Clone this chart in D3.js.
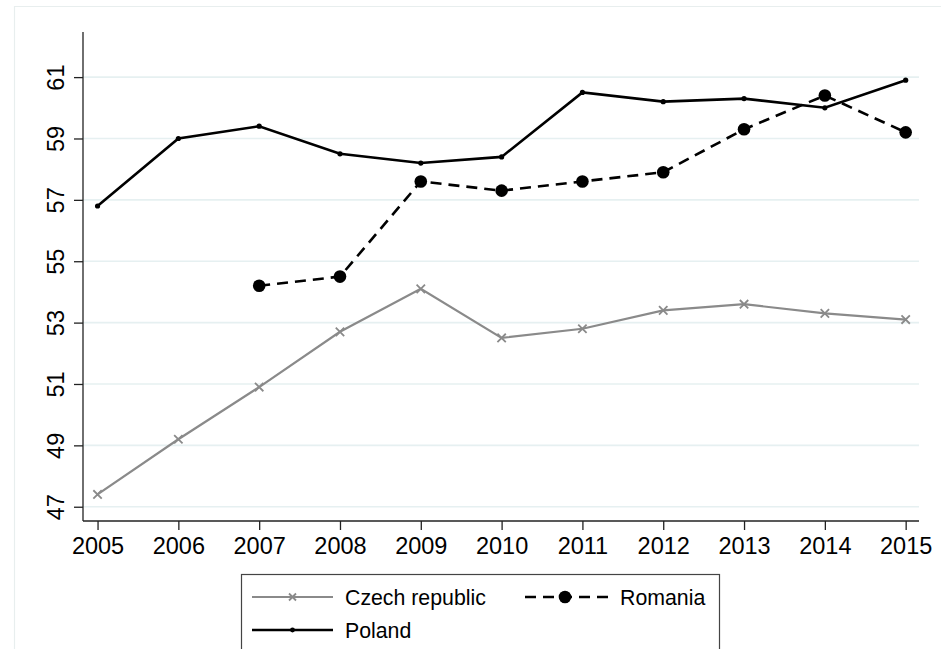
<!DOCTYPE html>
<html>
<head>
<meta charset="utf-8">
<script src="https://cdn.jsdelivr.net/npm/d3@7"></script>
<style>
  html, body { margin: 0; padding: 0; background: #fff; }
  svg { display: block; font-family: "Liberation Sans", Arial, sans-serif; }
</style>
</head>
<body>
<svg id="chart" width="941" height="649"></svg>
<script>
// Series, one value per year
const years = [2005, 2006, 2007, 2008, 2009, 2010, 2011, 2012, 2013, 2014, 2015];
const czech = [47.4, 49.2, 50.9, 52.7, 54.1, 52.5, 52.8, 53.4, 53.6, 53.3, 53.1];
const romania = [null, null, 54.2, 54.5, 57.6, 57.3, 57.6, 57.9, 59.3, 60.4, 59.2];
const poland = [56.8, 59.0, 59.4, 58.5, 58.2, 58.4, 60.5, 60.2, 60.3, 60.0, 60.9];
const yTicks = [47, 49, 51, 53, 55, 57, 59, 61];
const seriesNames = ["Czech republic", "Romania", "Poland"];

const svg = d3.select("#chart");

// Outer graph region frame (cropped on the right and bottom)
svg.append("path")
  .attr("d", "M14.5,660 V6.5 H950")
  .attr("fill", "none")
  .attr("stroke", "#e8eeee")
  .attr("stroke-width", 1.2);

const plot = { left: 83, right: 919, top: 32, bottom: 521 };

const x = d3.scaleLinear().domain([2004.82, 2015.165]).range([plot.left, plot.right]);
const y = d3.scaleLinear().domain([46.535, 62.47]).range([plot.bottom, plot.top]);

// Horizontal grid lines
svg.append("g")
  .selectAll("line")
  .data(yTicks)
  .join("line")
  .attr("x1", plot.left).attr("x2", plot.right)
  .attr("y1", d => y(d)).attr("y2", d => y(d))
  .attr("stroke", "#e6f0f1")
  .attr("stroke-width", 1.6);

// Y axis
const yAxis = svg.append("g")
  .attr("transform", `translate(${plot.left},0)`)
  .call(d3.axisLeft(y).tickValues(yTicks).tickSize(9).tickSizeOuter(0).tickPadding(10));
yAxis.select(".domain").remove();
yAxis.append("line")
  .attr("x1", 0).attr("x2", 0)
  .attr("y1", plot.top).attr("y2", plot.bottom)
  .attr("stroke", "#222").attr("stroke-width", 1.3);
yAxis.selectAll(".tick line").attr("stroke", "#222").attr("stroke-width", 1.3);
yAxis.selectAll(".tick text")
  .attr("font-size", 23.5)
  .attr("fill", "#000")
  .attr("x", null).attr("dy", null)
  .attr("text-anchor", "middle")
  .attr("transform", "translate(-19,0) rotate(-90)");

// X axis
const xAxis = svg.append("g")
  .attr("transform", `translate(0,${plot.bottom})`)
  .call(d3.axisBottom(x).tickValues(years).tickFormat(d3.format("d")).tickSize(9).tickSizeOuter(0).tickPadding(7));
xAxis.select(".domain").remove();
xAxis.append("line")
  .attr("x1", plot.left).attr("x2", plot.right)
  .attr("y1", 0).attr("y2", 0)
  .attr("stroke", "#222").attr("stroke-width", 1.3);
xAxis.selectAll(".tick line").attr("stroke", "#222").attr("stroke-width", 1.3);
xAxis.selectAll(".tick text").attr("font-size", 23.5).attr("fill", "#000");

const line = d3.line()
  .defined(d => d.v !== null)
  .x(d => x(d.yr))
  .y(d => y(d.v));

const pts = vals => years.map((yr, i) => ({ yr, v: vals[i] })).filter(d => d.v !== null);

// Czech republic: gray line with x markers
const czechData = years.map((yr, i) => ({ yr, v: czech[i] }));
svg.append("path")
  .datum(czechData)
  .attr("d", line)
  .attr("fill", "none")
  .attr("stroke", "#8a8a8a")
  .attr("stroke-width", 2.2);
const xMark = (g, cx, cy, s) => {
  g.append("path")
    .attr("d", `M${cx - s},${cy - s}L${cx + s},${cy + s}M${cx - s},${cy + s}L${cx + s},${cy - s}`)
    .attr("stroke", "#8a8a8a").attr("stroke-width", 1.8).attr("fill", "none");
};
const czechMarks = svg.append("g");
pts(czech).forEach(d => xMark(czechMarks, x(d.yr), y(d.v), 4.2));

// Romania: black dashed line with large dots
const romData = years.map((yr, i) => ({ yr, v: romania[i] }));
svg.append("path")
  .datum(romData)
  .attr("d", line)
  .attr("fill", "none")
  .attr("stroke", "#000")
  .attr("stroke-width", 2.6)
  .attr("stroke-dasharray", "11,7");
svg.append("g")
  .selectAll("circle")
  .data(pts(romania))
  .join("circle")
  .attr("cx", d => x(d.yr)).attr("cy", d => y(d.v))
  .attr("r", 6.3)
  .attr("fill", "#000");

// Poland: black solid line with small dots
const polData = years.map((yr, i) => ({ yr, v: poland[i] }));
svg.append("path")
  .datum(polData)
  .attr("d", line)
  .attr("fill", "none")
  .attr("stroke", "#000")
  .attr("stroke-width", 2.6);
svg.append("g")
  .selectAll("circle")
  .data(pts(poland))
  .join("circle")
  .attr("cx", d => x(d.yr)).attr("cy", d => y(d.v))
  .attr("r", 2.6)
  .attr("fill", "#000");

// Legend
const lg = svg.append("g");
lg.append("rect")
  .attr("x", 241.5).attr("y", 574.5)
  .attr("width", 478).attr("height", 120)
  .attr("fill", "#fff")
  .attr("stroke", "#444")
  .attr("stroke-width", 1.2);

// Row 1: Czech republic
const r1 = 597, r2 = 630;
lg.append("line").attr("x1", 252).attr("x2", 333).attr("y1", r1).attr("y2", r1)
  .attr("stroke", "#8a8a8a").attr("stroke-width", 2.2);
xMark(lg, 292.5, r1, 3.5);
lg.append("text").attr("x", 345).attr("y", r1).attr("dy", "0.36em")
  .attr("font-size", 21.3).attr("fill", "#000").text(seriesNames[0]);

// Row 1: Romania
lg.append("line").attr("x1", 525).attr("x2", 610).attr("y1", r1).attr("y2", r1)
  .attr("stroke", "#000").attr("stroke-width", 2.6).attr("stroke-dasharray", "11,7");
lg.append("circle").attr("cx", 565).attr("cy", r1).attr("r", 6.3).attr("fill", "#000");
lg.append("text").attr("x", 620).attr("y", r1).attr("dy", "0.36em")
  .attr("font-size", 21.3).attr("fill", "#000").text(seriesNames[1]);

// Row 2: Poland
lg.append("line").attr("x1", 252).attr("x2", 333).attr("y1", r2).attr("y2", r2)
  .attr("stroke", "#000").attr("stroke-width", 2.6);
lg.append("circle").attr("cx", 292.5).attr("cy", r2).attr("r", 2.4).attr("fill", "#000");
lg.append("text").attr("x", 345).attr("y", r2).attr("dy", "0.36em")
  .attr("font-size", 21.3).attr("fill", "#000").text(seriesNames[2]);
</script>
</body>
</html>
